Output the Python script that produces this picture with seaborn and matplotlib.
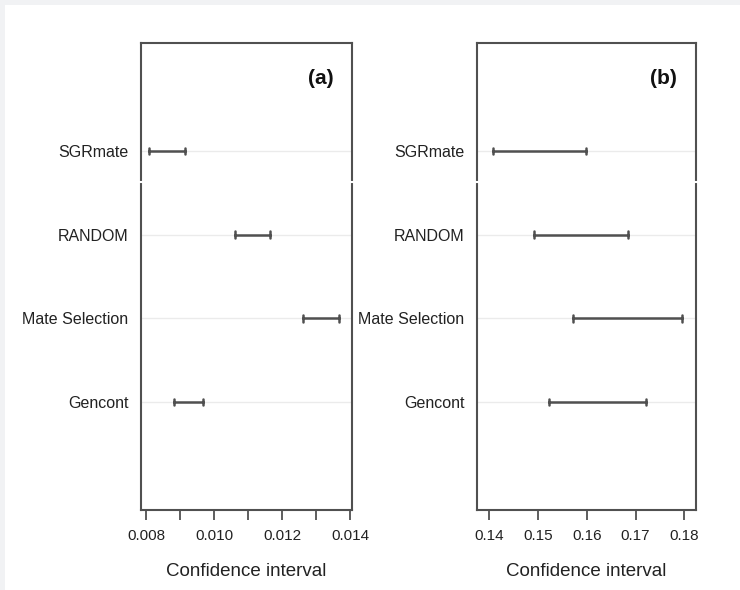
import numpy as np
import pandas as pd
import matplotlib
matplotlib.use("Agg")
import matplotlib.pyplot as plt
from matplotlib.patches import Rectangle
from matplotlib.lines import Line2D
import seaborn as sns

# ---- data ----
methods = ["SGRmate", "RANDOM", "Mate Selection", "Gencont"]
a_low = [0.00809, 0.01063, 0.01261, 0.00881]
a_high = [0.00915, 0.01166, 0.01369, 0.00967]
b_low = [0.14075, 0.14928, 0.15711, 0.15236]
b_high = [0.15981, 0.16855, 0.17957, 0.17211]

a_ticks = [0.008, 0.009, 0.010, 0.011, 0.012, 0.013, 0.014]
a_ticklabels = ["0.008", "", "0.010", "", "0.012", "", "0.014"]
b_ticks = [0.14, 0.15, 0.16, 0.17, 0.18]
b_ticklabels = ["0.14", "0.15", "0.16", "0.17", "0.18"]
panel_labels = ["(a)", "(b)"]
xlabel = "Confidence interval"

sns.set_theme(style="white")
plt.rcParams["font.family"] = ["Liberation Sans", "DejaVu Sans"]

fig = plt.figure(figsize=(7.4, 5.9), dpi=100, facecolor="white")

# light grey page border (top and left)
fig.patches.append(Rectangle((0, 1 - 5 / 590), 1, 5 / 590, transform=fig.transFigure,
                             facecolor="#f1f2f4", edgecolor="none", zorder=-5))
fig.patches.append(Rectangle((0, 0), 5 / 740, 1, transform=fig.transFigure,
                             facecolor="#f1f2f4", edgecolor="none", zorder=-5))

ax_a = fig.add_axes([141 / 740, 80 / 590, 211 / 740, 467 / 590])
ax_b = fig.add_axes([477 / 740, 80 / 590, 219 / 740, 467 / 590])

spine_col = "#505050"
bar_col = "#505050"

def panel(ax, low, high, ticks, ticklabels, xlim, label):
    df = pd.DataFrame({
        "method": methods + methods,
        "value": list(low) + list(high),
    })
    sns.pointplot(data=df, x="value", y="method", order=methods,
                  estimator="mean", errorbar=("pi", 100), capsize=0.08,
                  color=bar_col, marker="", linestyle="none",
                  err_kws=dict(linewidth=1.8, color=bar_col), ax=ax)
    ax.set_ylim(3 + 1.29, -1.29)
    ax.set_xlim(*xlim)
    ax.set_xticks(ticks)
    ax.set_xticklabels(ticklabels, fontsize=11, color="#222222")
    ax.tick_params(axis="x", which="major", bottom=True, length=7, width=1.3,
                   color=spine_col, pad=7)
    ax.tick_params(axis="y", length=0, pad=9, labelsize=11.5, labelcolor="#222222")
    ax.set_ylabel("")
    ax.set_xlabel(xlabel, fontsize=13.5, color="#222222", labelpad=14)
    ax.grid(axis="y", color="#ebebeb", linewidth=1.0)
    ax.grid(axis="x", visible=False)
    ax.set_axisbelow(True)
    for s in ax.spines.values():
        s.set_visible(True)
        s.set_color(spine_col)
        s.set_linewidth(1.5)
    ax.text(0.85, 0.925, label, transform=ax.transAxes, ha="center", va="center",
            fontsize=15, fontweight="bold", color="#111111")

panel(ax_a, a_low, a_high, a_ticks, a_ticklabels, (0.00785, 0.01406), panel_labels[0])
panel(ax_b, b_low, b_high, b_ticks, b_ticklabels, (0.1375, 0.1824), panel_labels[1])

# small white break in the frames (as in the source image)
fig.add_artist(Line2D([130 / 740, 1], [1 - 182 / 590] * 2, transform=fig.transFigure,
                      color="white", linewidth=1.5, zorder=5))

fig.savefig("out.png", dpi=100, facecolor="white")
